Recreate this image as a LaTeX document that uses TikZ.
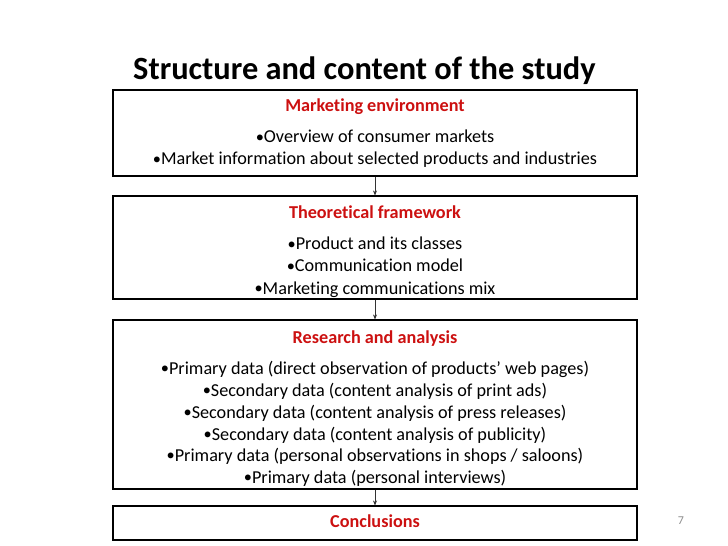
\documentclass[tikz,border=0pt]{standalone}
\usepackage{fontspec}
\setmainfont[Ligatures=NoCommon]{Carlito}
\usetikzlibrary{arrows.meta}
\definecolor{headred}{RGB}{204,16,16}
\definecolor{pagegray}{RGB}{140,140,140}
\tikzset{
  stagebox/.style={draw=black, line width=1.1bp, minimum width=524bp, inner sep=0pt},
  headtxt/.style={font=\fontsize{18.2bp}{21bp}\selectfont\bfseries, text=headred, inner sep=0pt, anchor=base},
  bodytxt/.style={font=\fontsize{18.2bp}{21bp}\selectfont, inner sep=0pt, anchor=base},
  flow/.style={draw=black!80, line width=0.6bp, -{Stealth[length=5bp,width=4bp]}}
}
\newcommand{\bul}{{\raisebox{1pt}{\scalebox{0.9}{•}}}}
\begin{document}
\begin{tikzpicture}[x=1bp,y=-1bp]
\useasboundingbox (0,0) rectangle (728,546);
% title
\node[font=\fontsize{32.4bp}{38bp}\selectfont\bfseries, anchor=base west, inner sep=0pt] (title) at (133,80) {Structure and content of the study};
% boxes
\node[stagebox, minimum height=86bp] (b1) at (375,133) {};
\node[stagebox, minimum height=103bp] (b2) at (375,247.5) {};
\node[stagebox, minimum height=169bp] (b3) at (375,404.5) {};
\node[stagebox, minimum height=34bp] (b4) at (375,523) {};
% box 1 text
\node[headtxt] (h1) at (375,112) {Marketing environment};
\node[bodytxt] (t11) at (375,143) {\bul Overview of consumer markets};
\node[bodytxt] (t12) at (375,165) {\bul Market information about selected products and industries};
% box 2 text
\node[headtxt] (h2) at (375,219) {Theoretical framework};
\node[bodytxt] (t21) at (375,250) {\bul Product and its classes};
\node[bodytxt] (t22) at (375,272) {\bul Communication model};
\node[bodytxt] (t23) at (375,294) {\bul Marketing communications mix};
% box 3 text
\node[headtxt] (h3) at (375,343) {Research and analysis};
\node[bodytxt] (t31) at (375,374) {\bul Primary data (direct observation of products’ web pages)};
\node[bodytxt] (t32) at (375,396) {\bul Secondary data (content analysis of print ads)};
\node[bodytxt] (t33) at (375,418) {\bul Secondary data (content analysis of press releases)};
\node[bodytxt] (t34) at (375,440) {\bul Secondary data (content analysis of publicity)};
\node[bodytxt] (t35) at (375,461.5) {\bul Primary data (personal observations in shops / saloons)};
\node[bodytxt] (t36) at (375,483) {\bul Primary data (personal interviews)};
% box 4 text
\node[headtxt] (h4) at (375,527.5) {Conclusions};
% page number
\node[font=\fontsize{12bp}{14bp}\selectfont, text=pagegray, inner sep=0pt] (pg) at (681,521) {7};
% connectors
\draw[flow] (b1.south) -- (b2.north);
\draw[flow] (b2.south) -- (b3.north);
\draw[flow] (b3.south) -- (b4.north);
\end{tikzpicture}
\end{document}
